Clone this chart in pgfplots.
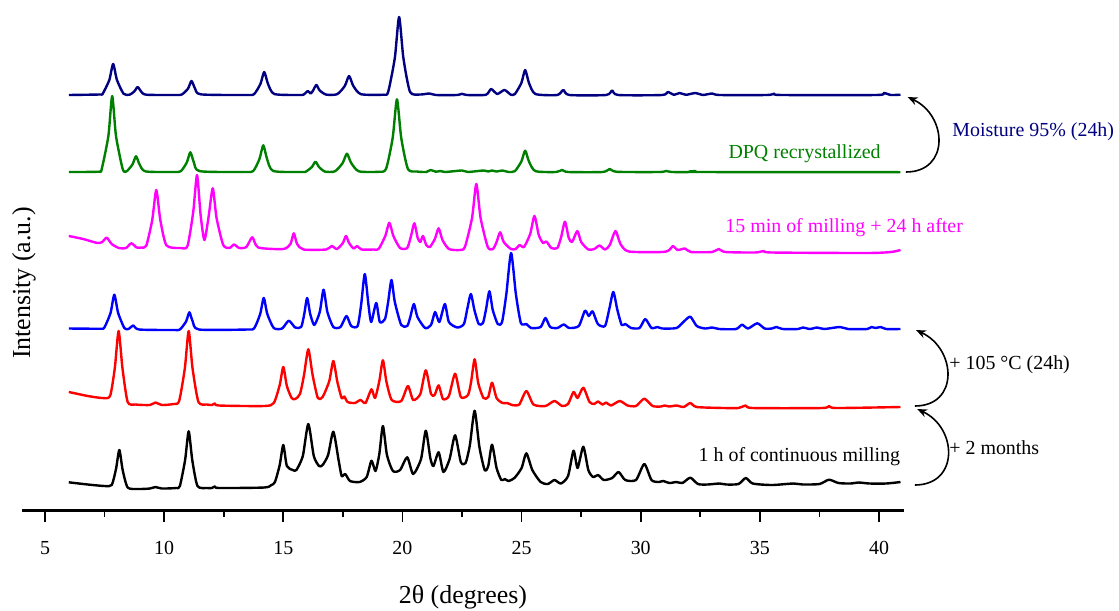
\documentclass[border=0pt]{standalone}
\usepackage{fontspec}
\setmainfont{Liberation Serif}
\usepackage{pgfplots}
\pgfplotsset{compat=1.18}
\usetikzlibrary{arrows.meta}
\definecolor{navyc}{RGB}{0,0,128}
\definecolor{greenc}{RGB}{0,128,0}
\definecolor{magc}{RGB}{255,0,255}
\definecolor{bluec}{RGB}{0,0,255}
\definecolor{redc}{RGB}{255,0,0}
\begin{document}
\begin{tikzpicture}
\begin{axis}[
  scale only axis, width=441bp, height=250bp,
  xmin=4.035, xmax=41.05, ymin=0, ymax=500,
  axis x line*=bottom, axis y line=none,
  ytick=\empty,
  xtick={5,10,...,40}, minor x tick num=1,
  tick align=outside, major tick length=6bp, minor tick length=3.5bp,
  every tick/.style={black, line width=0.9bp},
  axis line style={line width=1.5bp},
  tick label style={font=\fontsize{10}{12}\selectfont},
  xticklabel style={yshift=-6bp},
  /pgf/number format/assume math mode=true,
  clip=false,
  every axis plot/.append style={line width=1.2bp, smooth, tension=0.4, line join=round},
]
% navy: Moisture 95%
\addplot[navyc] coordinates {
(6.0,415) (7.3,415.5) (7.42,416.2) (7.7,430) (7.86,446) (8.02,430) (8.3,416.2)
(8.55,415.3) (8.75,418.6) (8.89,423) (9.03,418.6) (9.25,415.3) (10.5,415)
(10.75,415.6) (11.0,421.3) (11.15,429) (11.3,421.3) (11.55,415.6) (13.5,415)
(13.78,416) (14.04,426) (14.2,438) (14.36,426) (14.62,416) (15.6,415)
(15.85,415.3) (16.03,419) (16.15,416.5) (16.25,419.5) (16.39,425) (16.53,419.5) (16.8,415.4)
(17.26,415.8) (17.58,424) (17.76,434) (17.94,424) (18.26,415.8) (19.2,415.3)
(19.4,418) (19.68,452) (19.86,493) (20.04,452) (20.32,418) (20.75,415.5)
(21.13,416.5) (21.4,415) (22.3,415) (22.5,416.2) (22.7,415)
(23.5,415.2) (23.72,421) (23.98,416) (24.28,420) (24.55,415.3)
(24.72,416) (24.99,427) (25.15,440) (25.31,427) (25.58,416)
(26.5,415) (26.75,420) (27.0,415) (28.55,415) (28.8,419.5) (29.05,415)
(30.9,415) (31.13,418) (31.4,415.2) (31.63,417) (31.9,415.2) (32.3,417) (32.6,415) (33.0,416.5) (33.3,415)
(35.3,415) (35.6,416.3) (35.9,415) (39.9,415) (40.2,417) (40.5,415) (40.9,415.3)
};
% green: DPQ recrystallized
\addplot[greenc] coordinates {
(6.0,338) (7.25,338.3) (7.38,341) (7.66,374) (7.82,414) (7.98,374) (8.26,341)
(8.42,338.6) (8.67,345.5) (8.82,353.7) (8.97,345.5) (9.22,338.6) (10.4,338)
(10.7,338.8) (10.95,347.5) (11.1,357.7) (11.25,347.5) (11.5,338.8) (13.4,338)
(13.74,339) (14.0,351) (14.16,364.7) (14.32,351) (14.58,339) (15.8,338)
(15.95,338.4) (16.2,343) (16.35,348.3) (16.5,343) (16.75,338.4)
(17.17,338.7) (17.49,347) (17.67,356.3) (17.85,347) (18.17,338.7) (19.0,338.2)
(19.31,341) (19.59,372) (19.77,410.7) (19.95,372) (20.23,341) (20.6,338.5)
(21.0,338) (21.18,340) (21.4,338.3) (21.6,339) (21.8,338) (22.5,339.5) (22.75,338)
(23.4,339.5) (23.6,338.5) (23.76,339.5) (23.95,338.5) (24.2,339.5) (24.45,338)
(24.72,338.9) (24.99,348.5) (25.15,359.3) (25.31,348.5) (25.58,338.9)
(26.45,338) (26.7,340) (26.95,338) (28.4,338) (28.7,341) (29.0,338.2)
(30.8,338) (31.06,339) (31.3,338) (32.1,338) (32.3,339) (32.5,338) (40.9,337.8)
};
% magenta: 15 min milling + 24 h
\addplot[magc] coordinates {
(6.0,274) (6.6,271) (7.2,267) (7.4,268) (7.59,272.3) (7.8,266) (8.1,262)
(8.4,262) (8.62,266.7) (8.85,262.5) (9.05,262.5)
(9.25,264.3) (9.5,290) (9.67,320) (9.84,290) (10.1,264.5) (10.7,262)
(10.98,264) (11.22,298) (11.38,335) (11.53,295) (11.69,270) (11.87,294) (12.04,321.7) (12.2,292) (12.48,265)
(12.75,262) (12.93,265.5) (13.15,262) (13.45,263) (13.7,272.7) (13.95,262.5)
(15.0,261) (15.3,266) (15.44,276.7) (15.58,266) (15.85,260.5)
(16.8,260.5) (17.03,264) (17.25,261) (17.5,267) (17.63,274) (17.76,267) (17.95,261.5) (18.1,264) (18.28,260.5) (18.8,260.5)
(19.0,261) (19.28,274) (19.45,287.3) (19.62,274) (19.9,262)
(20.2,262) (20.36,274) (20.5,286.7) (20.64,272) (20.75,268) (20.86,274) (21.0,265) (21.15,263) (21.36,271) (21.52,281.7) (21.68,270) (21.95,261)
(22.4,260) (22.62,263) (22.92,292) (23.1,326) (23.28,292) (23.58,263) (23.8,261)
(23.95,268) (24.1,277.7) (24.25,268) (24.55,261) (24.75,261) (24.92,265) (25.1,263) (25.36,276) (25.54,294) (25.72,275) (25.9,267) (26.04,268.5) (26.25,262) (26.5,262)
(26.66,273) (26.82,288.3) (26.98,272) (27.12,268) (27.34,279) (27.5,268) (27.8,260.5) (28.05,261) (28.27,264.5) (28.5,260.5) (28.7,265) (28.94,279) (29.15,266) (29.5,258.5)
(30.9,258) (31.2,260) (31.35,264) (31.55,260) (31.86,261.5) (32.1,258) (33.0,258) (33.27,261) (33.55,258) (34.8,257.5) (35.16,259) (35.5,257.5) (39.5,257) (40.5,258) (40.9,260)
};
% blue
\addplot[bluec] coordinates {
(6.0,181.5) (7.3,181.3) (7.49,182.5) (7.75,197) (7.91,215.3) (8.07,197) (8.33,182)
(8.5,181) (8.71,184.5) (8.95,180.5) (10.4,180)
(10.66,180.5) (10.92,188.5) (11.06,197.7) (11.2,188.5) (11.46,180.5) (13.5,180.5)
(13.78,181.8) (14.03,196) (14.18,212) (14.33,196) (14.6,182)
(14.95,181.5) (15.23,189.3) (15.5,182.5)
(15.75,183) (15.88,196) (16.0,212) (16.13,196) (16.3,185) (16.53,198) (16.69,220.3) (16.85,198) (17.1,183) (17.4,183) (17.65,194) (17.85,184) (18.12,184)
(18.27,206) (18.42,236) (18.57,206) (18.69,188) (18.9,207) (19.05,188) (19.27,191) (19.4,208) (19.54,230) (19.68,208) (19.95,185) (20.2,184)
(20.33,193) (20.48,206) (20.63,193) (20.95,182) (21.2,185) (21.37,198) (21.55,188) (21.78,206) (21.95,188) (22.3,182.5)
(22.58,186) (22.72,201) (22.87,216) (23.02,200) (23.2,186) (23.38,187) (23.51,201) (23.65,218.7) (23.79,200) (24.0,186) (24.18,188)
(24.36,216) (24.56,257) (24.76,216) (24.97,187) (25.2,186) (25.4,182)
(25.8,183) (26.0,192) (26.2,183) (26.5,182) (26.77,185.5) (27.0,182) (27.4,184) (27.66,199.3) (27.82,194) (27.98,198.7) (28.2,186) (28.5,184) (28.68,201) (28.85,218) (29.02,200) (29.2,185) (29.35,186) (29.6,182)
(29.95,182) (30.19,191) (30.45,182) (30.7,183) (30.9,181.5) (31.5,182) (31.81,188.5) (32.08,193.3) (32.35,184) (32.7,181.5) (33.0,182.5) (33.3,181)
(34.0,181) (34.25,185.3) (34.5,181.5) (34.89,186.7) (35.2,181.5) (35.5,181.5) (35.7,183) (35.95,181)
(36.6,181) (36.8,182.5) (37.1,181) (37.4,182.5) (37.7,181) (38.36,183) (38.7,181) (39.5,181) (39.68,183) (39.85,182) (40.07,183) (40.3,181) (40.9,181)
};
% red: +105 C
\addplot[redc] coordinates {
(6.0,118) (6.8,114) (7.4,112) (7.73,114) (7.93,142) (8.09,179) (8.25,142) (8.47,108) (8.8,105.5)
(9.4,105) (9.64,107.5) (9.9,105) (10.4,106)
(10.63,109) (10.87,142) (11.03,179) (11.19,142) (11.44,108) (11.8,105.5)
(12.0,105) (12.13,106.5) (12.3,104.5) (14.2,104)
(14.6,107) (14.85,125) (15.0,143) (15.15,124) (15.35,112) (15.5,111)
(15.7,116) (15.87,135) (16.05,160.7) (16.23,135) (16.45,112)
(16.65,113) (16.93,129) (17.1,149) (17.27,128) (17.45,112) (17.56,113.5) (17.7,108) (18.0,107) (18.24,110) (18.45,107)
(18.7,120.7) (18.85,112) (19.03,129) (19.18,149.7) (19.33,128) (19.55,110) (19.95,109)
(20.23,124) (20.45,110) (20.75,116) (20.98,139.7) (21.2,116) (21.35,115) (21.52,124.7) (21.7,111) (21.95,114) (22.21,136.3) (22.45,113)
(22.75,115) (22.88,128) (23.03,150.7) (23.18,127) (23.4,112) (23.6,113) (23.76,127.3) (23.95,112) (24.2,107) (24.4,107) (24.6,105)
(24.9,105.5) (25.2,119) (25.5,105.5) (26.0,104) (26.38,109) (26.7,104) (26.95,106) (27.18,118) (27.35,112) (27.59,122.3) (27.85,108)
(28.05,106) (28.2,108.5) (28.4,105.5) (28.55,107.5) (28.75,104.5) (29.12,109) (29.45,104.5) (29.8,104) (30.15,111.3) (30.5,104)
(30.85,103.5) (31.0,104.5) (31.2,103.5) (31.5,104.5) (31.8,103) (32.08,107) (32.35,103) (33.5,102) (34.1,102) (34.41,104.5) (34.7,102)
(37.6,102) (37.9,104) (38.2,102) (40.9,103)
};
% black: 1 h milling
\addplot[black] coordinates {
(6.0,27.7) (6.8,25.5) (7.5,24) (7.8,25) (7.98,41) (8.12,60) (8.26,40) (8.47,22.5) (8.9,21)
(9.4,21.5) (9.64,23) (9.9,21.5) (10.5,22)
(10.66,24) (10.88,50) (11.03,78.7) (11.18,50) (11.4,24) (11.8,22)
(12.0,22) (12.13,23.5) (12.3,22) (14.2,22.5) (14.5,25)
(14.65,28) (14.85,45) (15.0,65) (15.15,44) (15.4,40) (15.55,40)
(15.82,54) (16.05,86) (16.28,54) (16.5,44) (16.65,45) (16.88,55) (17.1,78.3) (17.32,50) (17.45,34) (17.6,36) (17.8,29) (18.2,28)
(18.5,33) (18.7,49.3) (18.87,39) (19.03,56) (19.18,84) (19.35,55) (19.6,39) (19.9,40) (20.2,52.7) (20.45,36)
(20.78,51) (20.98,79.3) (21.17,52) (21.3,44) (21.52,57.7) (21.72,38) (21.98,51) (22.21,74.7) (22.45,48)
(22.65,47) (22.83,65) (23.03,99.3) (23.23,63) (23.45,40) (23.6,44) (23.76,65.3) (23.95,42) (24.15,30) (24.3,31) (24.45,29) (24.7,32)
(25.0,42) (25.2,56.7) (25.45,40) (25.8,28) (26.1,26) (26.38,30) (26.65,26.5) (26.95,34) (27.18,59.3) (27.35,42) (27.59,63.3) (27.8,40)
(28.0,33) (28.21,35) (28.45,30) (28.8,32) (29.07,38) (29.35,30) (29.8,30) (30.15,46) (30.45,30) (30.75,28) (30.94,29) (31.2,27) (31.5,28) (31.75,27)
(32.08,32.3) (32.4,26) (32.8,25.5) (33.3,26.5) (33.6,25.5) (34.1,26) (34.41,32) (34.7,26.5) (35.5,25) (36.4,26.5) (36.8,25.5) (37.5,26)
(37.9,30.3) (38.3,27) (38.8,26.5) (39.15,27.5) (39.6,26.5) (40.3,26.5) (40.9,28)
};
% annotations
\node[anchor=west, inner sep=1bp, text=navyc, font=\fontsize{10}{12}\selectfont] at (axis cs:42.98,378) {Moisture 95\% (24h)};
\node[anchor=east, inner sep=1bp, text=greenc, font=\fontsize{10}{12}\selectfont] at (axis cs:40.17,356) {DPQ recrystallized};
\node[anchor=west, inner sep=1bp, text=magc, font=\fontsize{10}{12}\selectfont] at (axis cs:33.45,282) {15 min of milling + 24 h after};
\node[anchor=west, inner sep=1bp, text=black, font=\fontsize{10}{12}\selectfont] at (axis cs:32.33,53) {1 h of continuous milling};
\node[anchor=west, inner sep=1bp, font=\fontsize{10}{12}\selectfont] at (axis cs:42.85,145) {+ 105 °C (24h)};
\node[anchor=west, inner sep=1bp, font=\fontsize{10}{12}\selectfont] at (axis cs:42.85,62) {+ 2 months};
\draw[line width=0.8bp, -{Stealth[length=5bp,width=4bp]}] (axis cs:41.13,338) to[out=0,in=-25,looseness=1.5] (axis cs:41.2,413);
\draw[line width=0.8bp, -{Stealth[length=5bp,width=4bp]}] (axis cs:41.5,104) to[out=0,in=-25,looseness=1.5] (axis cs:41.55,180);
\draw[line width=0.8bp, -{Stealth[length=5bp,width=4bp]}] (axis cs:41.5,25) to[out=0,in=-25,looseness=1.5] (axis cs:41.6,101);
\node[rotate=90, font=\fontsize{13}{15}\selectfont] at (axis cs:4.12,227) {Intensity (a.u.)};
\node[font=\fontsize{13}{15}\selectfont] at (axis cs:22.54,-87) {2θ (degrees)};
\coordinate (bbl) at (axis cs:3.112,-100);
\coordinate (btr) at (axis cs:50.07,510);
\end{axis}
\pgfresetboundingbox
\path[use as bounding box] (bbl) rectangle (btr);
\end{tikzpicture}
\end{document}
